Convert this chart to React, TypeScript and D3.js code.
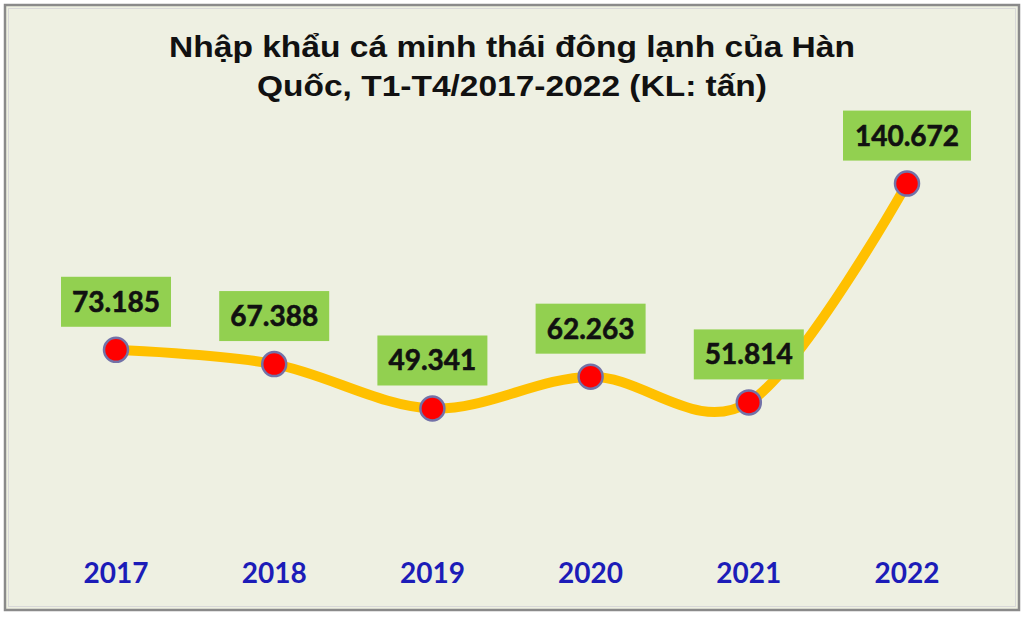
import React from "react";
import * as d3 from "d3";

const years = ["2017", "2018", "2019", "2020", "2021", "2022"];
const values = [73.185, 67.388, 49.341, 62.263, 51.814, 140.672];
const valueLabels = ["73.185", "67.388", "49.341", "62.263", "51.814", "140.672"];
const titleLines = [
  "Nhập khẩu cá minh thái đông lạnh của Hàn",
  "Quốc, T1-T4/2017-2022 (KL: tấn)",
];
const titleWidths = [686, 510];

const W = 1024;
const H = 617;

export default function App() {
  const x = d3.scalePoint<string>().domain(years).range([116, 907]).padding(0);
  const y = d3.scaleLinear().domain([0, 160]).range([530, 136]);

  const pts: [number, number][] = years.map((yr, i) => [x(yr) as number, y(values[i])]);
  const line = d3.line().curve(d3.curveCatmullRom.alpha(0))(pts) || "";

  return (
    <svg
      width={W}
      height={H}
      style={{ position: "absolute", left: 0, top: 0, display: "block" }}
    >
      <rect x={0} y={0} width={W} height={H} fill="#ffffff" />
      <rect x={4} y={4} width={1016} height={607} fill="#EEF0E2" />
      <rect x={5} y={5} width={1014} height={605} fill="none" stroke="#8a8a8a" strokeWidth={2.5} />
      <rect x={8.5} y={8.5} width={1007} height={598} fill="none" stroke="#d8d8d8" strokeWidth={1} />

      {titleLines.map((t, i) => (
        <text
          key={i}
          x={512}
          y={57 + i * 39}
          textAnchor="middle"
          fontFamily="'Liberation Sans', Arial, sans-serif"
          fontWeight="bold"
          fontSize={30}
          fill="#111"
          textLength={titleWidths[i]}
          lengthAdjust="spacingAndGlyphs"
        >
          {t}
        </text>
      ))}

      <path d={line} fill="none" stroke="#FFC000" strokeWidth={10} strokeLinecap="round" strokeLinejoin="round" />

      {pts.map(([px, py], i) => (
        <circle key={"c" + i} cx={px} cy={py} r={12} fill="#FF0000" stroke="#7272A8" strokeWidth={2.5} />
      ))}

      {pts.map(([px, py], i) => {
        const lbl = valueLabels[i];
        const bw = lbl.length * 18 + 2;
        const bh = 50;
        const bottom = py - 23;
        return (
          <g key={"l" + i}>
            <rect x={px - bw / 2} y={bottom - bh} width={bw} height={bh} fill="#92D050" />
            <text
              x={px}
              y={bottom - bh / 2 + 10}
              textAnchor="middle"
              fontFamily="Lato, 'Open Sans', sans-serif"
              fontWeight="bold"
              fontSize={28}
              fill="#111"
              stroke="#111"
              strokeWidth={0.6}
            >
              {lbl}
            </text>
          </g>
        );
      })}

      {years.map((yr) => (
        <text
          key={"y" + yr}
          x={x(yr) as number}
          y={583}
          textAnchor="middle"
          fontFamily="Lato, 'Open Sans', sans-serif"
          fontWeight="bold"
          fontSize={28}
          fill="#1C1CB8"
        >
          {yr}
        </text>
      ))}
    </svg>
  );
}
